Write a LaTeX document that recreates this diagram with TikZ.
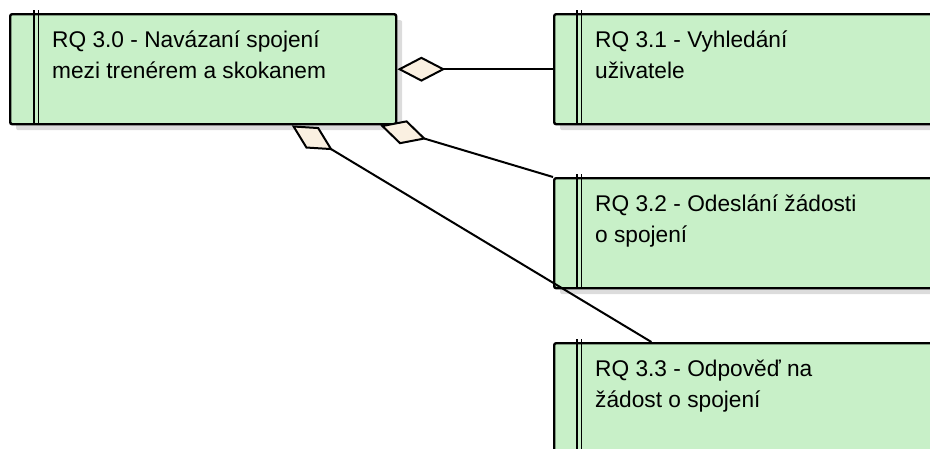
\documentclass[tikz,border=0pt]{standalone}
\usepackage{fontspec}
\setmainfont{Liberation Sans}
\usetikzlibrary{arrows.meta,shadows,calc}
\definecolor{reqfill}{RGB}{200,240,200}
\definecolor{aggfill}{RGB}{250,240,225}
\definecolor{shade}{RGB}{220,220,220}
\tikzset{
  reqbox/.style={draw=black, line width=2.4pt, fill=reqfill, rounded corners=2pt,
    inner sep=0pt, anchor=north west,
    general shadow={fill=shade, shadow xshift=6pt, shadow yshift=-6pt}},
  reqtext/.style={anchor=north west, inner sep=0pt, align=left,
    font=\fontsize{22.7}{31}\selectfont},
  stripe/.style={line width=1.5pt},
  agg/.style={line width=2pt,
    -{Diamond[length=48pt,width=25pt,fill=aggfill]}},
}
\begin{document}
\begin{tikzpicture}[x=1pt,y=-1pt]
  \useasboundingbox (0,0) rectangle (930,448);
  \clip (0,0) rectangle (930,448);

  % requirement boxes
  \node[reqbox, minimum width=386pt, minimum height=110pt] (b0) at (9,13) {};
  \node[reqbox, minimum width=420pt, minimum height=110pt] (b1) at (553,13) {};
  \node[reqbox, minimum width=420pt, minimum height=110pt] (b2) at (553,177) {};
  \node[reqbox, minimum width=420pt, minimum height=120pt] (b3) at (553,342) {};

  % double stripe on the left of each box
  \foreach \b/\dx in {b0/25, b1/24, b2/24, b3/24}{
    \draw[stripe] ([xshift=\dx pt, yshift=3pt]\b.north west) -- ([xshift=\dx pt]\b.south west);
    \draw[stripe] ([xshift=\dx pt + 4.5pt, yshift=3pt]\b.north west) -- ([xshift=\dx pt + 4.5pt]\b.south west);
  }

  % labels
  \node[reqtext] (t0) at ([shift={(43pt,-12.3pt)}]b0.north west)
    {\strut RQ 3.0 - Navázaní spojení\\mezi trenérem a skokanem};
  \node[reqtext] (t1) at ([shift={(42pt,-12.3pt)}]b1.north west)
    {\strut RQ 3.1 - Vyhledání\\uživatele};
  \node[reqtext] (t2) at ([shift={(42pt,-12.3pt)}]b2.north west)
    {\strut RQ 3.2 - Odeslání žádosti\\o spojení};
  \node[reqtext] (t3) at ([shift={(42pt,-12.3pt)}]b3.north west)
    {\strut RQ 3.3 - Odpověď na\\žádost o spojení};

  % aggregation connectors
  \draw[agg] (b1.west) -- (b0.east);
  \draw[agg] (b2.north west) -- ($(b0.south west)!0.956!(b0.south east)$);
  \draw[agg] ($(b3.north west)!0.233!(b3.north east)$) -- ($(b0.south west)!0.728!(b0.south east)$);
\end{tikzpicture}
\end{document}
